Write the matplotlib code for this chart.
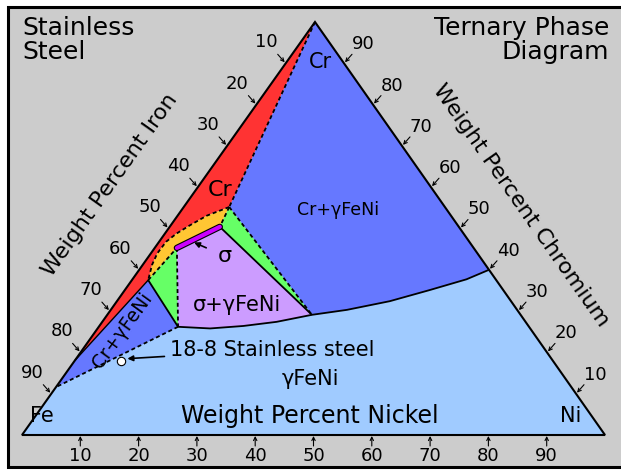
import numpy as np
import matplotlib.pyplot as plt
from matplotlib.patches import Polygon, Rectangle
import matplotlib.patheffects as pe

# triangle corners on the canvas (pixels, y grows downward)
FE = np.array([22.0, 435.0])
NI = np.array([605.0, 435.0])
CR = np.array([315.0, 22.0])

ticks = [10, 20, 30, 40, 50, 60, 70, 80, 90]

# phase boundaries as (wt% Cr, wt% Ni)
apex = (100, 0)
alpha_cr = [55.2, 53.1, 50.8, 48.8, 46.8, 44.0, 41.2, 37.5]   # alpha / (alpha+sigma) edge
alpha_ni = [7.8, 5.0, 3.3, 2.0, 1.2, 1.1, 1.6, 2.8]
alpha_low = (18, 0)                                             # alpha strip meets Fe-Cr side
sigma_cr = [45.3, 50.4]
sigma_ni = [3.8, 8.6]
gamma_cr = [26.2, 25.8, 26.4, 27.4, 29.1, 30.3, 32.4, 35.1, 37.7, 40.0]
gamma_ni = [13.6, 19.3, 24.7, 29.9, 35.1, 40.5, 46.8, 52.3, 57.3, 60.0]
gamma_edge = (11.6, 0)
steel_18_8 = (18, 8)

BG = '#cccccc'
LIGHTBLUE = '#a0cbff'
BLUE = '#6678ff'
RED = '#ff3333'
ORANGE = '#ffc633'
GREEN = '#66ff66'
LAVENDER = '#cc9cff'
MAGENTA = '#cc00ff'
DASH = (0, (2.2, 1.6))


def tern(cr, ni):
    cr = np.atleast_1d(np.asarray(cr, float)) / 100
    ni = np.atleast_1d(np.asarray(ni, float)) / 100
    fe = 1 - cr - ni
    x = fe * FE[0] + ni * NI[0] + cr * CR[0]
    y = fe * FE[1] + ni * NI[1] + cr * CR[1]
    return np.column_stack([x, y])


def pts(*parts):
    return np.vstack([tern(*p) for p in parts])


def fill(xy, color):
    ax.add_patch(Polygon(xy, closed=True, fc=color, ec='none'))


def line(xy, ls='-', lw=1.3):
    ax.plot(xy[:, 0], xy[:, 1], color='black', lw=lw, ls=ls, solid_capstyle='butt')


fig = plt.figure(figsize=(6.21, 4.74), dpi=100)
ax = fig.add_axes([0, 0, 1, 1])
ax.set_xlim(0, 621)
ax.set_ylim(474, 0)
ax.axis('off')
ax.add_patch(Rectangle((8, 7), 650, 460, fc=BG, ec='black', lw=2.2))

p1 = (alpha_cr[0], alpha_ni[0])
pl = (alpha_cr[-1], alpha_ni[-1])
s1 = (sigma_cr[0], sigma_ni[0])
s2 = (sigma_cr[1], sigma_ni[1])
g1 = (gamma_cr[0], gamma_ni[0])
g2 = (gamma_cr[4], gamma_ni[4])

# gamma (FeNi) everywhere first
fill(pts(([0, 0, 100], [0, 100, 0])), LIGHTBLUE)
# Cr + gamma, large field
fill(pts(apex, (gamma_cr[4:][::-1], gamma_ni[4:][::-1]), p1), BLUE)
# Cr + gamma, iron-rich field
fill(pts(pl, g1, gamma_edge, alpha_low), BLUE)
# Cr (alpha) strip
fill(pts(apex, (alpha_cr, alpha_ni), alpha_low), RED)
# alpha + sigma
fill(pts((alpha_cr, alpha_ni), s1, s2), ORANGE)
# three phase triangles
fill(pts(p1, s2, g2), GREEN)
fill(pts(pl, s1, g1), GREEN)
# sigma + gamma
fill(pts(s1, s2, (gamma_cr[:5][::-1], gamma_ni[:5][::-1])), LAVENDER)

# boundaries
line(pts(apex, p1), DASH)
line(pts(p1, g2), DASH)
line(pts(p1, s2), DASH)
line(pts((alpha_cr, alpha_ni)), DASH)
line(pts(pl, s1), DASH)
line(pts(s1, g1), DASH)
line(pts(g1, gamma_edge), DASH)
line(pts(pl, alpha_low), lw=1.0)
line(pts(pl, g1))
line(pts(s2, g2))
line(pts((gamma_cr, gamma_ni)))

sig = pts((sigma_cr, sigma_ni))
ax.plot(sig[:, 0], sig[:, 1], color=MAGENTA, lw=3.0, solid_capstyle='round',
        path_effects=[pe.Stroke(linewidth=4.6, foreground='black'), pe.Normal()])

# outline of the triangle
ax.add_patch(Polygon(pts(([0, 0, 100], [0, 100, 0])), closed=True, fc='none', ec='black', lw=1.5))

# axis ticks: arrows pointing onto each side
arrow = dict(arrowstyle='->', lw=0.8, color='black', mutation_scale=6, shrinkA=0, shrinkB=0)
for t in ticks:
    e = tern(100 - t, 0)[0]
    ax.annotate('', xy=e + (-1, -1), xytext=e + (-8, -9), arrowprops=arrow)
    ax.text(e[0] - 19, e[1] - 21, str(t), fontsize=13, ha='center', va='center')
    e = tern(t, 100 - t)[0]
    ax.annotate('', xy=e + (1, -1), xytext=e + (8, -9), arrowprops=arrow)
    ax.text(e[0] + 19, e[1] - 19, str(t), fontsize=13, ha='center', va='center')
    e = tern(0, t)[0]
    ax.annotate('', xy=e + (0, 1), xytext=e + (0, 11), arrowprops=arrow)
    ax.text(e[0], e[1] + 21, str(t), fontsize=13, ha='center', va='center')

# titles
ax.text(22, 16, 'Stainless\nSteel', fontsize=18, ha='left', va='top', linespacing=1.0)
ax.text(609, 16, 'Ternary Phase\nDiagram', fontsize=18, ha='right', va='top',
        multialignment='right', linespacing=1.0)
ax.text(110, 185, 'Weight Percent Iron', fontsize=16, rotation=54.7,
        ha='center', va='center', rotation_mode='anchor')
ax.text(521, 205, 'Weight Percent Chromium', fontsize=16, rotation=-54.9,
        ha='center', va='center', rotation_mode='anchor')
ax.text(310, 416, 'Weight Percent Nickel', fontsize=17, ha='center', va='center')

# phase labels
ax.text(42, 416, 'Fe', fontsize=15, ha='center', va='center')
ax.text(571, 416, 'Ni', fontsize=15, ha='center', va='center')
ax.text(320, 62, 'Cr', fontsize=15, ha='center', va='center')
ax.text(220, 190, 'Cr', fontsize=16, ha='center', va='center')
ax.text(338, 210, 'Cr+\u03b3FeNi', fontsize=12.5, ha='center', va='center')
ax.text(237, 305, '\u03c3+\u03b3FeNi', fontsize=15, ha='center', va='center')
ax.text(122, 331, 'Cr+\u03b3FeNi', fontsize=13.5, rotation=54, ha='center', va='center',
        rotation_mode='anchor')
ax.text(310, 379, '\u03b3FeNi', fontsize=15, ha='center', va='center')

sm = sig[0] + 0.4 * (sig[1] - sig[0])
ax.annotate('\u03c3', xy=sm + (0, 3), xytext=(225, 256), fontsize=16, ha='center', va='center',
            arrowprops=dict(arrowstyle='-|>', lw=1.2, color='black', mutation_scale=8,
                            shrinkA=7, shrinkB=0))

st = tern(*steel_18_8)[0]
ax.plot(st[0], st[1], 'o', ms=6, mfc='white', mec='black', mew=0.8)
ax.annotate('18-8 Stainless steel', xy=st + (6, -2), xytext=(170, 350), fontsize=15,
            ha='left', va='center',
            arrowprops=dict(arrowstyle='-|>', lw=1.2, color='black', mutation_scale=8,
                            shrinkA=2, shrinkB=0))

fig.savefig('out.png', dpi=100)
